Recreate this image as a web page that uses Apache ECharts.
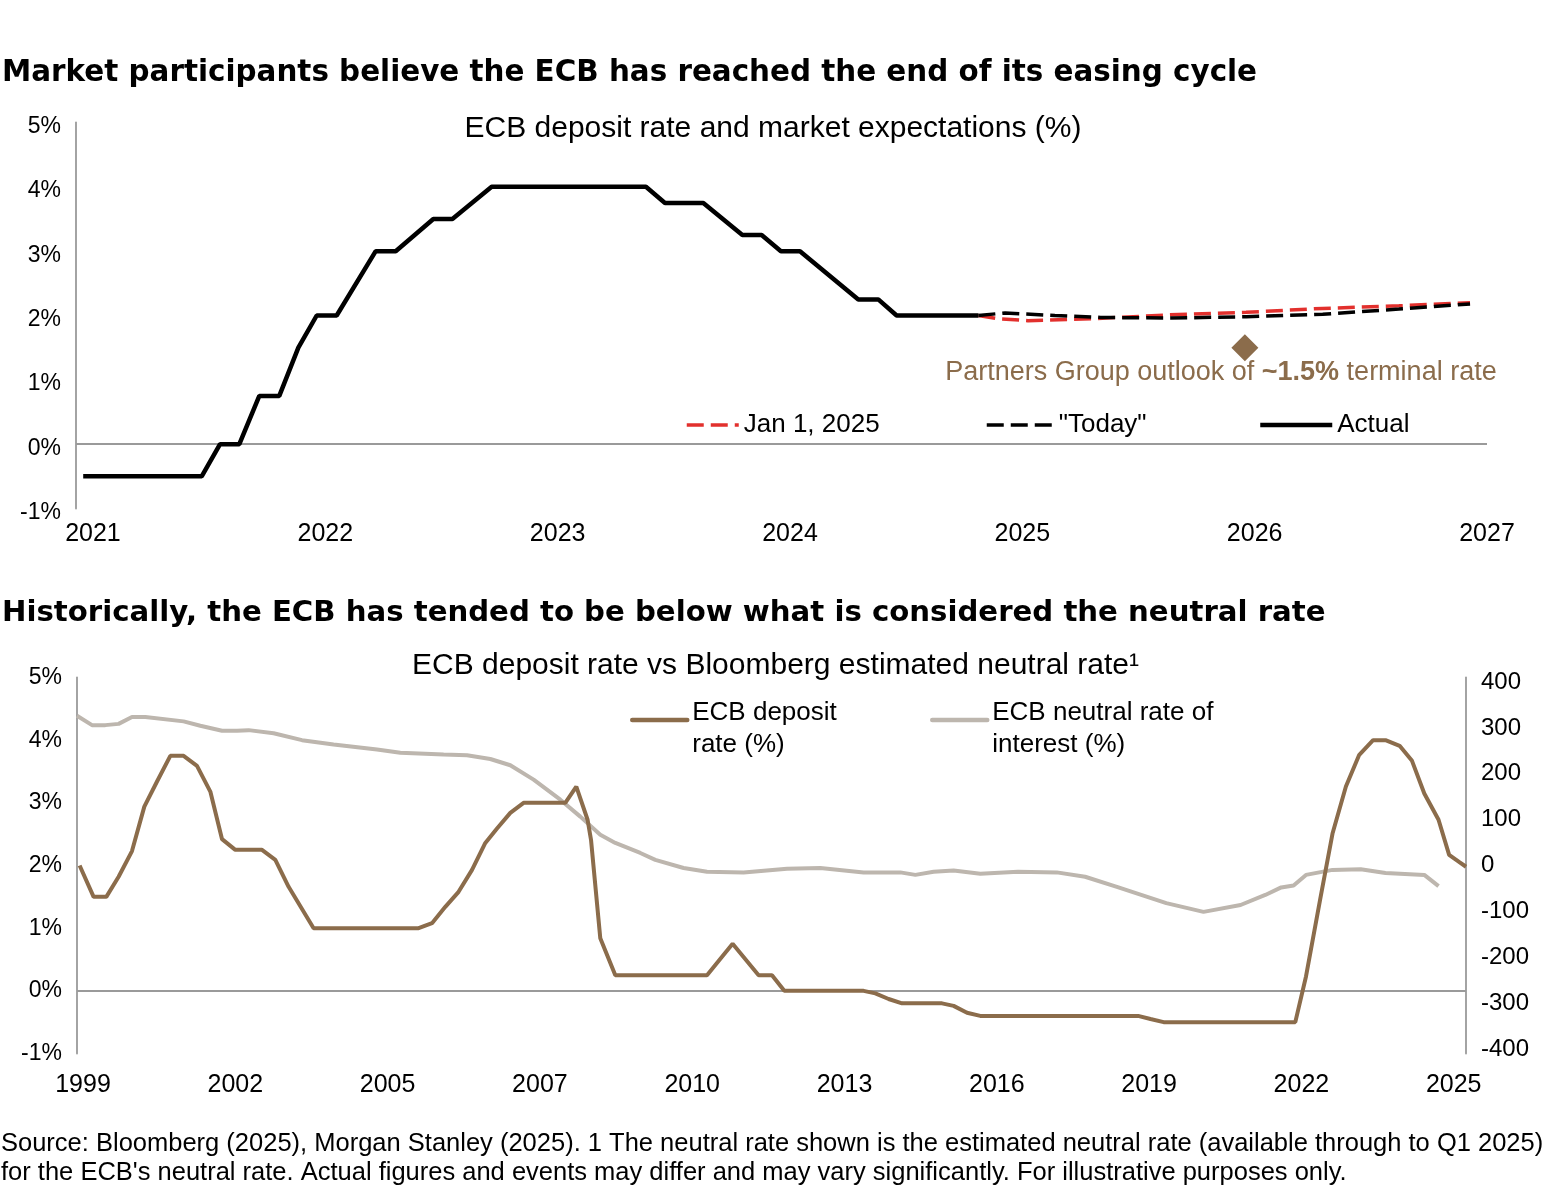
<!DOCTYPE html>
<html>
<head>
<meta charset="utf-8">
<script src="https://cdn.jsdelivr.net/npm/echarts@6/dist/echarts.min.js"></script>
<style>
html,body{margin:0;padding:0;background:#ffffff;}
#chart{width:1554px;height:1190px;}
</style>
</head>
<body>
<div id="chart"></div>
<script>
const FONT = '"Liberation Sans", Arial, sans-serif';
const TITLE_FONT = '"DejaVu Sans", "Liberation Sans", sans-serif';
const BROWN = '#8B6C4B';
const GREY = '#BDB6AE';
const RED = '#E2302D';
const AXIS = '#9A9A9A';

// ---------- Top chart: ECB deposit rate and market expectations (%) ----------
const topXTicks = [2021, 2022, 2023, 2024, 2025, 2026, 2027];
const actualX = [2020.958, 2021.468, 2021.547, 2021.630, 2021.716, 2021.802, 2021.884, 2021.963, 2022.049,
                 2022.217, 2022.303, 2022.465, 2022.547, 2022.716, 2023.380, 2023.462, 2023.627, 2023.795,
                 2023.878, 2023.961, 2024.043, 2024.294, 2024.380, 2024.459, 2024.811];
const actualY = [-0.5, -0.5, 0, 0, 0.75, 0.75, 1.5, 2.0, 2.0,
                 3.0, 3.0, 3.5, 3.5, 4.0, 4.0, 3.75, 3.75, 3.25,
                 3.25, 3.0, 3.0, 2.25, 2.25, 2.0, 2.0];
const jan2025X = [2024.811, 2024.893, 2025.024, 2025.304, 2025.634, 2025.963, 2026.293, 2026.621, 2026.927];
const jan2025Y = [2.0, 1.95, 1.92, 1.95, 2.01, 2.05, 2.11, 2.15, 2.20];
const todayX = [2024.811, 2024.926, 2025.140, 2025.337, 2025.634, 2025.963, 2026.293, 2026.621, 2026.927];
const todayY = [2.0, 2.04, 2.0, 1.97, 1.96, 1.98, 2.02, 2.10, 2.18];
const outlookX = [2025.958];
const outlookY = [1.5];

// ---------- Bottom chart: ECB deposit rate vs Bloomberg estimated neutral rate ----------
const bottomXLabels = ['1999', '2002', '2005', '2007', '2010', '2013', '2016', '2019', '2022', '2025'];
const rightTicks = [-400, -300, -200, -100, 0, 100, 200, 300, 400];
const depositX = [1998.936, 1999.201, 1999.442, 1999.675, 1999.929, 2000.163, 2000.404, 2000.656, 2000.908,
                  2001.162, 2001.415, 2001.637, 2001.889, 2002.395, 2002.648, 2002.900, 2003.374, 2005.366,
                  2005.620, 2005.872, 2006.124, 2006.379, 2006.631, 2006.853, 2007.105, 2007.357, 2008.148,
                  2008.357, 2008.571, 2008.636, 2008.812, 2009.097, 2010.836, 2011.322, 2011.815, 2012.069,
                  2012.302, 2013.807, 2014.029, 2014.281, 2014.535, 2015.294, 2015.514, 2015.768, 2016.020,
                  2019.013, 2019.248, 2019.497, 2021.995, 2022.198, 2022.465, 2022.701, 2022.955, 2023.204,
                  2023.471, 2023.706, 2023.974, 2024.209, 2024.442, 2024.712, 2024.913, 2025.114, 2025.233];
const depositY = [2.0, 1.5, 1.5, 1.82, 2.23, 2.94, 3.34, 3.75, 3.75,
                  3.59, 3.18, 2.42, 2.25, 2.25, 2.09, 1.66, 1.0, 1.0,
                  1.08, 1.34, 1.58, 1.93, 2.36, 2.59, 2.84, 3.0, 3.0,
                  3.26, 2.73, 2.41, 0.84, 0.25, 0.25, 0.75, 0.25, 0.25,
                  0, 0, -0.04, -0.13, -0.2, -0.2, -0.24, -0.35, -0.4,
                  -0.4, -0.45, -0.5, -0.5, 0.23, 1.45, 2.51, 3.26, 3.76,
                  4.0, 4.0, 3.91, 3.67, 3.15, 2.73, 2.17, 2.05, 1.98];
const neutralX = [1998.886, 1999.171, 1999.423, 1999.675, 1999.929, 2000.182, 2000.908, 2001.225, 2001.637,
                  2001.921, 2002.141, 2002.615, 2003.154, 2003.753, 2004.577, 2005.019, 2005.840, 2006.284,
                  2006.726, 2007.105, 2007.547, 2008.054, 2008.433, 2008.812, 2009.097, 2009.571, 2009.856,
                  2010.392, 2010.836, 2011.530, 2012.354, 2012.985, 2013.807, 2014.503, 2014.788, 2015.135,
                  2015.514, 2016.020, 2016.735, 2017.471, 2018.008, 2018.611, 2019.548, 2020.254, 2020.957,
                  2021.426, 2021.728, 2021.963, 2022.198, 2022.701, 2023.236, 2023.706, 2024.442, 2024.712];
const neutralY = [4.39, 4.24, 4.24, 4.26, 4.37, 4.37, 4.30, 4.23, 4.15,
                  4.15, 4.16, 4.11, 4.00, 3.93, 3.85, 3.80, 3.77, 3.76,
                  3.70, 3.60, 3.37, 3.05, 2.78, 2.49, 2.36, 2.20, 2.09,
                  1.96, 1.90, 1.89, 1.95, 1.96, 1.89, 1.89, 1.85, 1.90,
                  1.92, 1.87, 1.90, 1.89, 1.82, 1.66, 1.40, 1.26, 1.37,
                  1.53, 1.65, 1.68, 1.85, 1.93, 1.94, 1.88, 1.85, 1.67];

function zip(xs, ys) { return xs.map((x, i) => [x, ys[i]]); }
const bottomLabelPos = bottomXLabels.map((_, i) => 1999 + i * 26 / 9);

const zeroLine = {
  silent: true, symbol: 'none', label: { show: false }, z: 1,
  lineStyle: { color: AXIS, width: 1.8, type: 'solid' },
  data: [{ yAxis: 0 }]
};

const hiddenSymbol = { color: 'rgba(0,0,0,0)', borderWidth: 0, opacity: 0 };
function topLegend(name, left, w, lw) {
  return { data: [name], left: left, top: 410, padding: 0, itemWidth: w, itemHeight: 14, selectedMode: false,
    itemStyle: hiddenSymbol, lineStyle: { width: lw },
    textStyle: { fontSize: 26, lineHeight: 30, color: '#000' } };
}
function bottomLegend(name, left) {
  return { data: [name], left: left, top: 679, padding: 0, itemWidth: 55, itemHeight: 14, selectedMode: false,
    itemStyle: hiddenSymbol, lineStyle: { width: 4.5, cap: 'round' },
    formatter: n => '{s| }\n' + n.split('\n').map(t => '{t|' + t + '}').join('\n'),
    textStyle: { fontSize: 26, color: '#000',
      rich: { s: { fontSize: 10, lineHeight: 18, height: 18 }, t: { fontSize: 26, lineHeight: 32, color: '#000' } } } };
}

const chart = echarts.init(document.getElementById('chart'));
const option = {
  animation: false,
  backgroundColor: '#ffffff',
  textStyle: { fontFamily: FONT, color: '#000' },
  grid: [
    { left: 76, right: 67, top: 122.5, height: 386 },
    { left: 77, right: 88, top: 677.5, height: 376 }
  ],
  xAxis: [
    {
      type: 'value', gridIndex: 0, min: 2020.927, max: 2027,
      axisLine: { show: false, onZero: false }, axisTick: { show: false }, splitLine: { show: false },
      axisLabel: { customValues: topXTicks, formatter: v => String(Math.round(v)), fontSize: 25, color: '#000', margin: 13 }
    },
    {
      type: 'value', gridIndex: 1, min: 1998.886, max: 2025.233,
      axisLine: { show: false, onZero: false }, axisTick: { show: false }, splitLine: { show: false },
      axisLabel: {
        customValues: bottomLabelPos,
        formatter: v => bottomXLabels[Math.round((v - 1999) * 9 / 26)],
        fontSize: 25, color: '#000', margin: 19
      }
    }
  ],
  yAxis: [
    {
      type: 'value', gridIndex: 0, min: -1, max: 5, interval: 1,
      axisLine: { show: true, onZero: false, lineStyle: { color: AXIS, width: 1.8 } },
      axisTick: { show: false }, splitLine: { show: false },
      axisLabel: { formatter: '{value}%', fontSize: 23, color: '#000', margin: 15, verticalAlign: 'top', lineHeight: 8 }
    },
    {
      type: 'value', gridIndex: 1, min: -1, max: 5, interval: 1,
      axisLine: { show: true, onZero: false, lineStyle: { color: AXIS, width: 1.8 } },
      axisTick: { show: false }, splitLine: { show: false },
      axisLabel: { formatter: '{value}%', fontSize: 23, color: '#000', margin: 15 }
    },
    {
      type: 'value', gridIndex: 1, position: 'right', min: -410, max: 410,
      axisLine: { show: true, onZero: false, lineStyle: { color: AXIS, width: 1.8 } },
      axisTick: { show: false }, splitLine: { show: false },
      axisLabel: { customValues: rightTicks, fontSize: 24, color: '#000', margin: 15 }
    }
  ],
  legend: [
    topLegend('Jan 1, 2025', 685, 52, 3.5),
    topLegend('"Today"', 985, 67, 3.5),
    topLegend('Actual', 1258, 72, 4.5),
    bottomLegend('ECB deposit\nrate (%)', 630),
    bottomLegend('ECB neutral rate of\ninterest (%)', 930)
  ],
  series: [
    {
      name: 'Jan 1, 2025', type: 'line', xAxisIndex: 0, yAxisIndex: 0, symbol: 'none', z: 2,
      data: zip(jan2025X, jan2025Y),
      lineStyle: { color: RED, width: 3.5, type: [17, 7] }, itemStyle: { color: RED },
      markLine: zeroLine
    },
    {
      name: '"Today"', type: 'line', xAxisIndex: 0, yAxisIndex: 0, symbol: 'none', z: 3,
      data: zip(todayX, todayY),
      lineStyle: { color: '#000', width: 3.5, type: [17, 7] }, itemStyle: { color: '#000' }
    },
    {
      name: 'Actual', type: 'line', xAxisIndex: 0, yAxisIndex: 0, symbol: 'none', z: 4,
      data: zip(actualX, actualY),
      lineStyle: { color: '#000', width: 4.5 }, itemStyle: { color: '#000' }
    },
    {
      name: 'Partners Group outlook', type: 'scatter', xAxisIndex: 0, yAxisIndex: 0, z: 4,
      symbol: 'diamond', symbolSize: [27, 27],
      data: zip(outlookX, outlookY),
      itemStyle: { color: BROWN, opacity: 1 },
      label: {
        show: true, position: 'inside', offset: [-24, 25],
        formatter: '{a|Partners Group outlook of }{b|~1.5%}{a| terminal rate}',
        rich: {
          a: { fontSize: 27, color: BROWN, fontFamily: FONT },
          b: { fontSize: 27, color: BROWN, fontFamily: FONT, fontWeight: 'bold' }
        }
      }
    },
    {
      name: 'ECB neutral rate of\ninterest (%)', type: 'line', xAxisIndex: 1, yAxisIndex: 1, symbol: 'none', z: 2,
      data: zip(neutralX, neutralY),
      lineStyle: { color: GREY, width: 4 }, itemStyle: { color: GREY },
      markLine: zeroLine
    },
    {
      name: 'ECB deposit\nrate (%)', type: 'line', xAxisIndex: 1, yAxisIndex: 1, symbol: 'none', z: 3,
      data: zip(depositX, depositY),
      lineStyle: { color: BROWN, width: 4 }, itemStyle: { color: BROWN }
    }
  ],
  graphic: [
    { type: 'text', x: 2, y: 73, style: { text: 'Market participants believe the ECB has reached the end of its easing cycle',
      font: 'bold 29.4px ' + TITLE_FONT, fill: '#000', textAlign: 'left', align: 'left', textVerticalAlign: 'middle', verticalAlign: 'middle' } },
    { type: 'text', x: 773, y: 129, style: { text: 'ECB deposit rate and market expectations (%)',
      font: '30px ' + FONT, fill: '#000', textAlign: 'center', align: 'center', textVerticalAlign: 'middle', verticalAlign: 'middle' } },
    { type: 'text', x: 2, y: 613, style: { text: 'Historically, the ECB has tended to be below what is considered the neutral rate',
      font: 'bold 29.2px ' + TITLE_FONT, fill: '#000', textAlign: 'left', align: 'left', textVerticalAlign: 'middle', verticalAlign: 'middle' } },
    { type: 'text', x: 775.5, y: 666, style: { text: 'ECB deposit rate vs Bloomberg estimated neutral rate\u00B9',
      font: '30px ' + FONT, fill: '#000', textAlign: 'center', align: 'center', textVerticalAlign: 'middle', verticalAlign: 'middle' } },
    { type: 'text', x: 1, y: 1144, style: { text: 'Source: Bloomberg (2025), Morgan Stanley (2025). 1 The neutral rate shown is the estimated neutral rate (available through to Q1 2025)',
      font: '25.5px ' + FONT, fill: '#000', textAlign: 'left', align: 'left', textVerticalAlign: 'middle', verticalAlign: 'middle' } },
    { type: 'text', x: 1, y: 1173, style: { text: "for the ECB's neutral rate. Actual figures and events may differ and may vary significantly. For illustrative purposes only.",
      font: '25.5px ' + FONT, fill: '#000', textAlign: 'left', align: 'left', textVerticalAlign: 'middle', verticalAlign: 'middle' } }
  ]
};
chart.setOption(option);
</script>
</body>
</html>
